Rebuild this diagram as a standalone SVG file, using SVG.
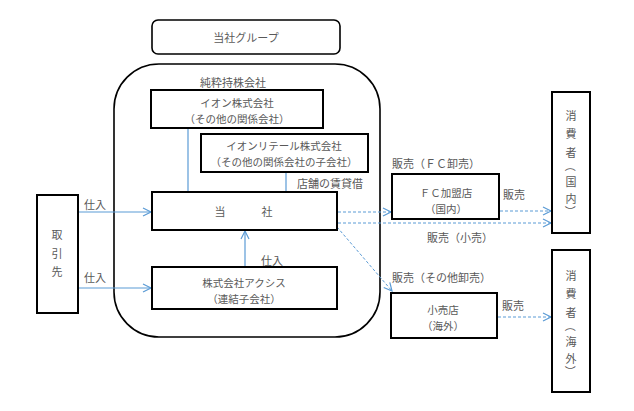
<svg xmlns="http://www.w3.org/2000/svg" width="634" height="411" viewBox="0 0 634 411">
<defs>
<style>
text{font-family:"Noto Sans CJK JP","Noto Sans",sans-serif;font-size:11px;fill:#595959;dominant-baseline:central}
.c{text-anchor:middle}
.two{font-size:10.5px}
.box{fill:#fff;stroke:#000;stroke-width:2}
.rbox{fill:none;stroke:#000;stroke-width:1.6}
.ln{stroke:#5B9BD5;stroke-width:1.2;fill:none}
.dl{stroke:#5B9BD5;stroke-width:1;fill:none;stroke-dasharray:3 2}
</style>
<marker id="ah" markerUnits="userSpaceOnUse" markerWidth="10" markerHeight="10" refX="8" refY="4" orient="auto" overflow="visible">
<path d="M0,0 L8,4 L0,8" fill="none" stroke="#5B9BD5" stroke-width="1.2"/>
</marker>
</defs>
<g id="group-title">
<rect class="rbox" x="152" y="20" width="188" height="34" rx="6"/>
<text class="c" x="246" y="37">当社グループ</text>
</g>
<g id="group-frame">
<rect class="rbox" x="114" y="64" width="266" height="273" rx="45"/>
<text class="c" x="233" y="82">純粋持株会社</text>
</g>
<g id="connectors">
<line class="ln" x1="188" y1="128" x2="188" y2="192"/>
<line class="ln" x1="286" y1="172" x2="286" y2="192"/>
<line class="ln" x1="245" y1="267" x2="245" y2="231" marker-end="url(#ah)"/>
<line class="ln" x1="78" y1="212" x2="151" y2="212" marker-end="url(#ah)"/>
<line class="ln" x1="78" y1="288" x2="151" y2="288" marker-end="url(#ah)"/>
<line class="dl" x1="338" y1="212" x2="391" y2="212" marker-end="url(#ah)"/>
<line class="dl" x1="338" y1="223" x2="551" y2="223" marker-end="url(#ah)"/>
<line class="dl" x1="337" y1="227" x2="392" y2="291" marker-end="url(#ah)"/>
<line class="dl" x1="500" y1="211" x2="551" y2="211" marker-end="url(#ah)"/>
<line class="dl" x1="498" y1="317" x2="551" y2="317" marker-end="url(#ah)"/>
<text class="c" x="95" y="204">仕入</text>
<text class="c" x="95" y="277">仕入</text>
<text class="c" x="272" y="260">仕入</text>
<text class="c" x="330" y="183">店舗の賃貸借</text>
<text x="392" y="163">販売（ＦＣ卸売）</text>
<text x="503" y="194">販売</text>
<text x="427" y="237">販売（小売）</text>
<text x="392" y="277">販売（その他卸売）</text>
<text x="502" y="305">販売</text>
</g>
<g id="aeon">
<rect class="box" x="151" y="90" width="172" height="38"/>
<text class="c two" x="237" y="102.5">イオン株式会社<tspan x="237" y="117.8">（その他の関係会社）</tspan></text>
</g>
<g id="aeon-retail">
<rect class="box" x="201" y="134" width="167" height="38"/>
<text class="c two" x="284" y="145.5">イオンリテール株式会社<tspan x="284" y="160.8">（その他の関係会社の子会社）</tspan></text>
</g>
<g id="company">
<rect class="box" x="152" y="192" width="185" height="38"/>
<text x="220" y="211" class="c">当<tspan x="267">社</tspan></text>
</g>
<g id="axis">
<rect class="box" x="152" y="267" width="185" height="42"/>
<text class="c two" x="244" y="282.5">株式会社アクシス<tspan x="244" y="297.8">（連結子会社）</tspan></text>
</g>
<g id="supplier">
<rect class="box" x="37" y="195" width="41" height="118"/>
<text class="c" x="57" y="234">取<tspan x="57" y="253">引</tspan><tspan x="57" y="271">先</tspan></text>
</g>
<g id="fc-store">
<rect class="box" x="392" y="174" width="107" height="45"/>
<text class="c two" x="446" y="192.5">ＦＣ加盟店<tspan x="446" y="207.8">（国内）</tspan></text>
</g>
<g id="retail-overseas">
<rect class="box" x="391" y="293" width="106" height="45"/>
<text class="c two" x="443" y="309.5">小売店<tspan x="443" y="324.8">（海外）</tspan></text>
</g>
<g id="consumer-domestic">
<rect class="box" x="552" y="92" width="38" height="141"/>
<text class="c" x="571" y="115">消<tspan x="571" y="133">費</tspan><tspan x="571" y="152">者</tspan></text>
<text class="c" transform="rotate(90 571 166)" x="571" y="166">（</text>
<text class="c" x="571" y="181">国<tspan x="571" y="198">内</tspan></text>
<text class="c" transform="rotate(90 571 211)" x="571" y="211">）</text>
</g>
<g id="consumer-overseas">
<rect class="box" x="552" y="250" width="38" height="142"/>
<text class="c" x="571" y="275">消<tspan x="571" y="293">費</tspan><tspan x="571" y="312">者</tspan></text>
<text class="c" transform="rotate(90 571 326)" x="571" y="326">（</text>
<text class="c" x="571" y="341">海<tspan x="571" y="358">外</tspan></text>
<text class="c" transform="rotate(90 571 371)" x="571" y="371">）</text>
</g>
</svg>
